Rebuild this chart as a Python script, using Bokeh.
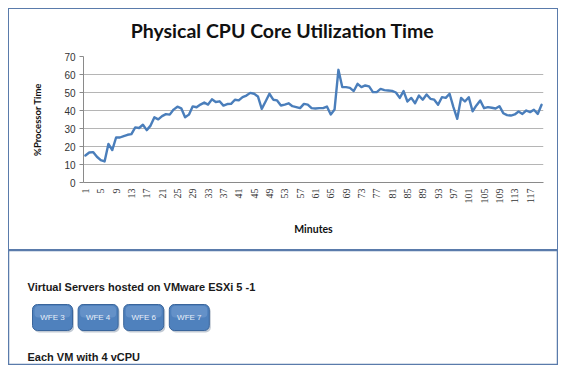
import numpy as np
from bokeh.plotting import figure
from bokeh.models import Range1d, FixedTicker, ColumnDataSource
from bokeh.layouts import column
from bokeh.embed import file_html
from bokeh.resources import INLINE
from bokeh.core.properties import value

# ---------------- data ----------------
minutes = list(range(1, 121))
cpu = [
    15.0, 16.7, 16.9, 14.3, 12.4, 11.7, 21.4, 18.0, 25.0, 25.0,
    25.8, 26.5, 26.9, 30.6, 30.3, 32.1, 29.1, 31.6, 36.2, 35.1,
    36.9, 38.0, 37.7, 40.5, 42.1, 41.2, 36.2, 37.7, 42.3, 41.8,
    43.3, 44.4, 43.3, 46.2, 44.7, 45.1, 42.7, 43.6, 43.7, 46.0,
    45.6, 47.4, 48.3, 49.8, 49.3, 47.8, 40.9, 45.0, 49.3, 46.0,
    45.6, 42.8, 43.3, 44.0, 42.4, 41.9, 41.3, 43.7, 43.3, 41.3,
    41.1, 41.3, 41.3, 42.2, 37.8, 40.6, 62.6, 53.0, 53.0, 52.6,
    50.8, 54.8, 53.0, 53.9, 53.4, 50.2, 50.2, 52.0, 51.3, 51.1,
    50.9, 50.0, 47.0, 50.8, 45.0, 47.0, 44.0, 48.3, 46.0, 48.9,
    46.5, 46.0, 43.2, 47.4, 47.0, 49.3, 41.9, 35.4, 47.0, 45.0,
    47.4, 39.6, 42.8, 45.6, 41.3, 41.9, 41.5, 41.1, 42.4, 38.5,
    37.4, 37.2, 37.8, 39.4, 38.1, 40.0, 39.1, 40.4, 38.1, 43.2,
]
x_tick_values = list(range(1, 120, 4))
y_tick_values = [0, 10, 20, 30, 40, 50, 60, 70]
title_text = "Physical CPU Core Utilization Time"
y_label = "%Processor Time"
x_label = "Minutes"
host_text = "Virtual Servers hosted on VMware ESXi 5 -1"
vm_names = ["WFE 3", "WFE 4", "WFE 6", "WFE 7"]
vcpu_text = "Each VM with 4 vCPU"

# ---------------- sizes ----------------
W = 550
H0 = 40    # title strip
H1 = 202   # chart
H2 = 115   # info box
BORDER = "#5a7bab"
LINE = "1px solid " + BORDER

# ---------------- title strip (top part of the chart box) ----------------
h = figure(width=W, height=H0, output_backend="svg", toolbar_location=None,
           x_range=Range1d(0, W), y_range=Range1d(H0, 0),
           x_axis_location=None, y_axis_location=None, min_border=0)
h.frame_align = False
h.grid.visible = False
h.outline_line_color = None
h.styles = {"border-top": LINE, "border-left": LINE, "border-right": LINE,
            "box-sizing": "border-box"}
h.text(x=[W / 2 - 2], y=[21], text=[title_text], text_font=value("Lato"),
       text_font_style="bold", text_font_size="19.5px", text_color="#111111",
       text_align="center", text_baseline="middle")

# ---------------- chart ----------------
p = figure(width=W, height=H1, output_backend="svg", toolbar_location=None,
           x_range=Range1d(0.5, 120.5), y_range=Range1d(0, 70),
           min_border_left=74, min_border_right=16, min_border_top=8,
           min_border_bottom=68)
p.frame_align = False
p.styles = {"border-bottom": LINE, "border-left": LINE, "border-right": LINE,
            "box-sizing": "border-box"}

src = ColumnDataSource(dict(minute=minutes, cpu=cpu))
p.line("minute", "cpu", source=src, line_color="#4a7ebb", line_width=2.4,
       line_join="round", line_cap="round")

p.outline_line_color = None
p.xgrid.grid_line_color = None
p.ygrid.grid_line_color = "#b5b5b5"
p.ygrid.ticker = FixedTicker(ticks=y_tick_values)

p.yaxis.ticker = FixedTicker(ticks=y_tick_values)
p.yaxis.axis_line_color = "#8a8a8a"
p.yaxis.major_tick_line_color = "#8a8a8a"
p.yaxis.major_tick_out = 4
p.yaxis.major_tick_in = 0
p.yaxis.minor_tick_line_color = None
p.yaxis.major_label_standoff = 4
p.yaxis.major_label_text_font = "Liberation Sans"
p.yaxis.major_label_text_font_size = "10px"
p.yaxis.major_label_text_color = "#333333"
p.yaxis.axis_label = y_label
p.yaxis.axis_label_text_font = "Lato"
p.yaxis.axis_label_text_font_style = "bold"
p.yaxis.axis_label_text_font_size = "9.5px"
p.yaxis.axis_label_text_color = "#111111"
p.yaxis.axis_label_standoff = 18

p.xaxis.ticker = FixedTicker(ticks=x_tick_values)
p.xaxis.major_label_orientation = np.pi / 2
p.xaxis.axis_line_color = "#8a8a8a"
p.xaxis.major_tick_line_color = None
p.xaxis.major_tick_out = 3
p.xaxis.minor_tick_line_color = None
p.xaxis.major_label_standoff = 3
p.xaxis.major_label_text_font = "Liberation Serif"
p.xaxis.major_label_text_font_size = "10px"
p.xaxis.major_label_text_color = "#333333"
p.xaxis.axis_label = x_label
p.xaxis.axis_label_text_font = "Lato"
p.xaxis.axis_label_text_font_style = "bold"
p.xaxis.axis_label_text_font_size = "10.5px"
p.xaxis.axis_label_text_color = "#111111"
p.xaxis.axis_label_standoff = 16

# ---------------- bottom info box ----------------
q = figure(width=W, height=H2, output_backend="svg", toolbar_location=None,
           x_range=Range1d(0, W), y_range=Range1d(H2, 0),
           x_axis_location=None, y_axis_location=None, min_border=0)
q.frame_align = False
q.grid.visible = False
q.outline_line_color = BORDER
q.outline_line_width = 1.5

q.text(x=[19], y=[36], text=[host_text], text_font=value("Liberation Sans"),
       text_font_style="bold", text_font_size="11px", text_color="#1a1a1a",
       text_baseline="middle", text_align="left")

n = len(vm_names)
bw, bh, gap = 40, 26, 5.6
lefts = [24 + i * (bw + gap) for i in range(n)]
rights = [l + bw for l in lefts]
centers = [l + bw / 2 for l in lefts]
top_b, bot_b = 54, 54 + bh
q.quad(left=[l + 1.5 for l in lefts], right=[r + 1.5 for r in rights],
       top=[top_b + 2] * n, bottom=[bot_b + 2] * n,
       fill_color="#9aa6b8", fill_alpha=0.6, line_color=None, border_radius=5)
q.quad(left=lefts, right=rights, top=[top_b] * n, bottom=[bot_b] * n,
       fill_color="#4f81bd", line_color="#3a659b", line_width=1, border_radius=5)
q.quad(left=[l + 2 for l in lefts], right=[r - 2 for r in rights],
       top=[top_b + 1.5] * n, bottom=[top_b + bh / 2] * n,
       fill_color="#7ea3d4", fill_alpha=0.45, line_color=None, border_radius=4)
q.text(x=centers, y=[(top_b + bot_b) / 2] * n, text=vm_names,
       text_font=value("Liberation Sans"), text_font_size="8px",
       text_color="#e8eef8", text_align="center", text_baseline="middle")

q.text(x=[19], y=[106], text=[vcpu_text], text_font=value("Liberation Sans"),
       text_font_style="bold", text_font_size="11px", text_color="#1a1a1a",
       text_baseline="middle", text_align="left")

layout = column(h, p, q, spacing=0, margin=(8, 0, 0, 8))
open("out.html", "w").write(file_html(layout, INLINE))
